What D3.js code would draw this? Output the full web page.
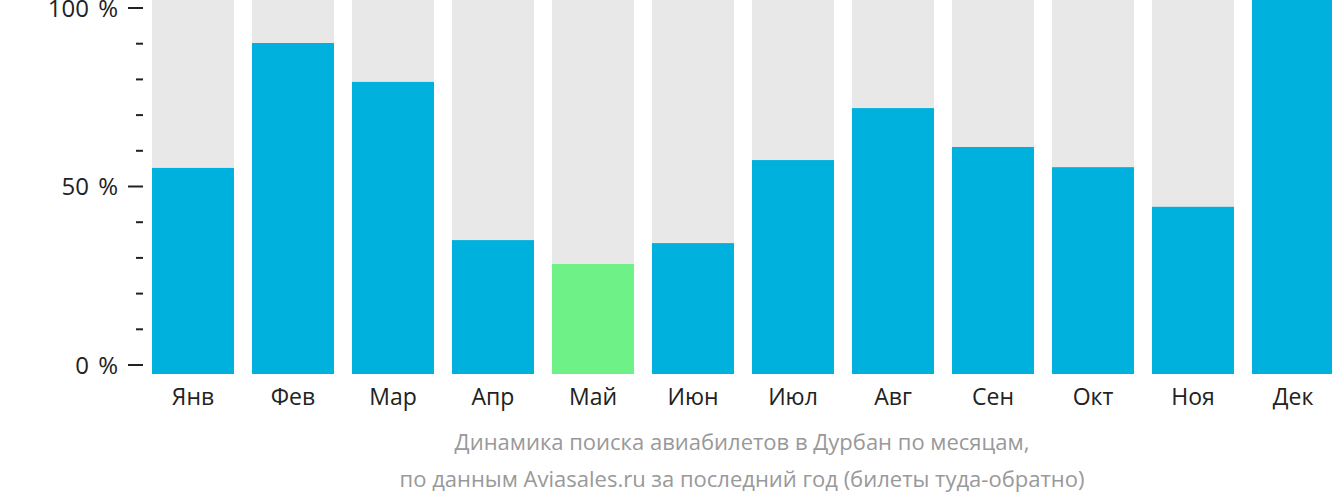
<!DOCTYPE html><html><head><meta charset="utf-8">
<script src="https://cdn.jsdelivr.net/npm/d3@7"></script>
<style>body{margin:0;background:#fff}text{font-family:"Open Sans",sans-serif}</style></head><body>
<svg id="c" width="1332" height="502"></svg>
<script>
const months=["Янв","Фев","Мар","Апр","Май","Июн","Июл","Авг","Сен","Окт","Ноя","Дек"];
const values=[55.1,88.5,78.1,35.8,29.4,35.0,57.2,71.1,60.7,55.3,44.7,100];
const highlight=[false,false,false,false,true,false,false,false,false,false,false,false];
const tickLabels=["0 %","50 %","100 %"];
const svg=d3.select("#c");
const x=d3.scaleBand().domain(months).range([152,1334]).paddingInner(0.18).paddingOuter(0);
const yb=d3.scaleLinear().domain([0,100]).range([374,0]);
const ya=d3.scaleLinear().domain([0,100]).range([365,8]);
svg.selectAll(".bg").data(months).join("rect").attr("x",d=>x(d)).attr("width",x.bandwidth())
 .attr("y",yb(100)).attr("height",yb(0)-yb(100)).attr("fill","#e8e8e8");
svg.selectAll(".v").data(values).join("rect").attr("x",(d,i)=>x(months[i])).attr("width",x.bandwidth())
 .attr("y",d=>yb(d)).attr("height",d=>yb(0)-yb(d)).attr("fill",(d,i)=>highlight[i]?"#6ef287":"#00b1dd");
const g=svg.append("g");
d3.range(0,101,10).forEach(v=>{
 const major=v%50===0;
 g.append("line").attr("x1",major?128:136).attr("x2",143).attr("y1",ya(v)).attr("y2",ya(v)).attr("stroke","#222").attr("stroke-width",2);
});
[0,50,100].forEach((v,i)=>g.append("text").attr("x",118).attr("y",ya(v)).attr("dy","0.36em").attr("text-anchor","end").attr("font-size",24).attr("word-spacing",3).attr("fill","#222").text(tickLabels[i]));
svg.selectAll(".m").data(months).join("text").attr("x",d=>x(d)+x.bandwidth()/2).attr("y",405).attr("text-anchor","middle").attr("font-size",23).attr("fill","#222").text(d=>d);
svg.append("text").attr("x",742).attr("y",450).attr("text-anchor","middle").attr("font-size",22).attr("fill","#999").text("Динамика поиска авиабилетов в Дурбан по месяцам,");
svg.append("text").attr("x",742).attr("y",487).attr("text-anchor","middle").attr("font-size",22).attr("fill","#999").text("по данным Aviasales.ru за последний год (билеты туда-обратно)");
</script></body></html>
